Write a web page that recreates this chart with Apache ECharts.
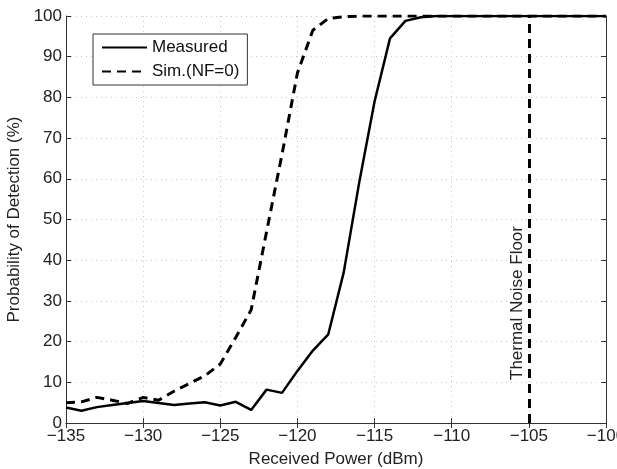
<!DOCTYPE html>
<html><head><meta charset="utf-8">
<script src="https://cdn.jsdelivr.net/npm/echarts@6/dist/echarts.min.js"></script>
<style>html,body{margin:0;padding:0;background:#fff}#c{width:617px;height:469px}</style>
</head><body><div id="c"></div>
<script>
var power = [-135,-134,-133,-132,-131,-130,-129,-128,-127,-126,-125,-124,-123,-122,-121,-120,-119,-118,-117,-116,-115,-114,-113,-112,-111,-110,-109,-108,-107,-106,-105,-104,-103,-102,-101,-100];
var measured = [3.8,3.0,3.9,4.4,4.9,5.4,4.9,4.4,4.8,5.1,4.3,5.2,3.2,8.2,7.4,12.8,17.8,21.8,37,59,79,94.5,98.8,99.7,100,100,100,100,100,100,100,100,100,100,100,100];
var sim = [5.0,5.2,6.3,5.6,4.8,6.3,5.6,7.8,9.7,11.6,14.5,21,27.8,47,66,86,96.5,99.4,99.8,100,100,100,100,100,100,100,100,100,100,100,100,100,100,100,100,100];
var noiseFloor = -105;
var xTicks = {min: -135, max: -100, step: 5};
var yTicks = {min: 0, max: 100, step: 10};
var seriesNames = ['Measured', 'Sim.(NF=0)'];
var xTitle = 'Received Power (dBm)';
var yTitle = 'Probability of Detection (%)';
var floorLabel = 'Thermal Noise Floor';

function pairs(xs, ys){ return xs.map(function(x,i){ return [x, ys[i]]; }); }
var font = 'Liberation Sans, Arial, Helvetica, sans-serif';
var fmt = function(v){ return String(v).replace('-', '\u2212'); };
var axisLine = {show: true, lineStyle: {color: '#333', width: 1}};
var axisTick = {show: true, inside: true, length: 5, lineStyle: {color: '#333'}};
var gridLine = {show: true, lineStyle: {color: '#c8c8c8', type: [1, 4], width: 1}};
var chart = echarts.init(document.getElementById('c'), null, {renderer: 'canvas'});
chart.setOption({
  animation: false,
  backgroundColor: '#fff',
  grid: {left: 66, right: 11, top: 16, bottom: 46, containLabel: false, outerBoundsMode: 'none'},
  legend: {
    left: 93, top: 34, orient: 'vertical',
    itemWidth: 45, itemHeight: 14, itemGap: 7,
    padding: [5, 8, 5, 8],
    borderColor: '#333', borderWidth: 1, backgroundColor: '#fff',
    itemStyle: {color: 'rgba(0,0,0,0)', borderColor: 'rgba(0,0,0,0)', borderWidth: 0, opacity: 0},
    textStyle: {fontFamily: font, fontSize: 17, color: '#111'},
    data: seriesNames
  },
  xAxis: [
    {type: 'value', min: xTicks.min, max: xTicks.max, interval: xTicks.step,
      name: xTitle, nameLocation: 'middle', nameGap: 28,
      nameTextStyle: {fontFamily: font, fontSize: 17, color: '#222'},
      axisLabel: {formatter: fmt, fontFamily: font, fontSize: 17, color: '#222', margin: 5},
      axisLine: axisLine, axisTick: axisTick, splitLine: gridLine},
    {type: 'value', position: 'top', min: xTicks.min, max: xTicks.max, interval: xTicks.step,
      axisLabel: {show: false}, axisLine: axisLine, axisTick: axisTick, splitLine: {show: false}}
  ],
  yAxis: [
    {type: 'value', min: yTicks.min, max: yTicks.max, interval: yTicks.step,
      name: yTitle, nameLocation: 'middle', nameGap: 43, nameRotate: 90,
      nameTextStyle: {fontFamily: font, fontSize: 17, color: '#222'},
      axisLabel: {fontFamily: font, fontSize: 17, color: '#222', margin: 4},
      axisLine: axisLine, axisTick: axisTick, splitLine: gridLine},
    {type: 'value', position: 'right', min: yTicks.min, max: yTicks.max, interval: yTicks.step,
      axisLabel: {show: false}, axisLine: axisLine, axisTick: axisTick, splitLine: {show: false}}
  ],
  series: [
    {name: seriesNames[0], type: 'line', data: pairs(power, measured), showSymbol: false, symbol: 'none',
      lineStyle: {color: '#000', width: 2.5, type: 'solid'}, itemStyle: {color: '#000'}, z: 3,
      markLine: {
        silent: true, symbol: ['none', 'none'],
        lineStyle: {color: '#000', width: 3, type: [9, 6]},
        label: {show: true, formatter: floorLabel, position: 'insideStartTop', distance: [43, 3],
          fontFamily: font, fontSize: 17, color: '#222'},
        data: [{xAxis: noiseFloor}]
      }},
    {name: seriesNames[1], type: 'line', data: pairs(power, sim), showSymbol: false, symbol: 'none',
      lineStyle: {color: '#000', width: 3, type: [9, 6]}, itemStyle: {color: '#000'}, z: 2}
  ]
});
</script></body></html>
